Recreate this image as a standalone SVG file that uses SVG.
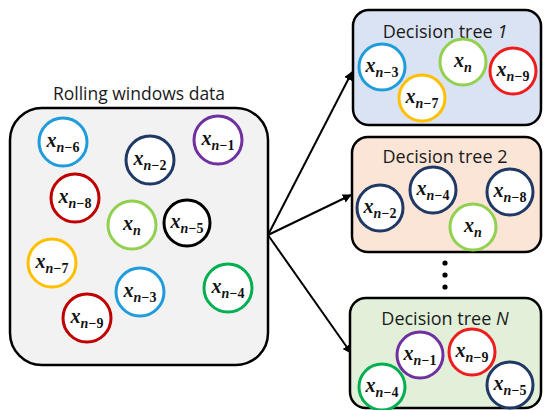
<svg xmlns="http://www.w3.org/2000/svg" width="544" height="410" viewBox="0 0 544 410">
<style>
.box{stroke:#000;stroke-width:2.5}
.c{fill:#fff;stroke-width:3}
.t{font-family:"Open Sans","Noto Sans",sans-serif;font-size:17.5px;fill:#1a1a1a;text-anchor:middle}
.m{font-family:"Liberation Serif",serif;font-weight:bold;font-style:italic;font-size:20px;fill:#111;text-anchor:middle}
.s{font-size:14px}
.u{font-style:normal}
.conn{stroke:#000;stroke-width:2;fill:none}
.blue{stroke:#1f9ddb}.navy{stroke:#1f3864}.purple{stroke:#7030a0}.red{stroke:#c00000}.bred{stroke:#ee1c1c}
.lg{stroke:#92d050}.dg{stroke:#00b050}.yel{stroke:#ffc000}.blk{stroke:#000}
</style>
<defs>
<marker id="ah" viewBox="0 0 10 10" refX="9" refY="5" markerWidth="4.5" markerHeight="4.5" orient="auto" markerUnits="strokeWidth">
<path d="M0,0 L10,5 L0,10 z" fill="#000"/>
</marker>
</defs>

<g id="connectors">
<line class="conn" x1="268" y1="235" x2="352" y2="72" marker-end="url(#ah)"/>
<line class="conn" x1="268" y1="235" x2="351" y2="195" marker-end="url(#ah)"/>
<line class="conn" x1="268" y1="235" x2="351" y2="353" marker-end="url(#ah)"/>
</g>

<g id="rolling-window">
<text class="t" x="139" y="100">Rolling windows data</text>
<rect class="box" x="10" y="108" width="258" height="257" rx="32" fill="#f2f2f2"/>
<g><circle class="c blue" cx="63" cy="142" r="24"/><text class="m" x="63" y="147">x<tspan class="s" dy="5">n<tspan class="u">−6</tspan></tspan></text></g>
<g><circle class="c navy" cx="150" cy="160" r="24"/><text class="m" x="150" y="165">x<tspan class="s" dy="5">n<tspan class="u">−2</tspan></tspan></text></g>
<g><circle class="c purple" cx="218" cy="140" r="24"/><text class="m" x="218" y="145">x<tspan class="s" dy="5">n<tspan class="u">−1</tspan></tspan></text></g>
<g><circle class="c red" cx="75" cy="198" r="24"/><text class="m" x="75" y="203">x<tspan class="s" dy="5">n<tspan class="u">−8</tspan></tspan></text></g>
<g><circle class="c lg" cx="132" cy="225" r="24"/><text class="m" x="132" y="230">x<tspan class="s" dy="5">n</tspan></text></g>
<g><circle class="c blk" cx="187" cy="223" r="23"/><text class="m" x="187" y="228">x<tspan class="s" dy="5">n<tspan class="u">−5</tspan></tspan></text></g>
<g><circle class="c yel" cx="52" cy="263" r="24"/><text class="m" x="52" y="268">x<tspan class="s" dy="5">n<tspan class="u">−7</tspan></tspan></text></g>
<g><circle class="c blue" cx="140" cy="292" r="24"/><text class="m" x="140" y="297">x<tspan class="s" dy="5">n<tspan class="u">−3</tspan></tspan></text></g>
<g><circle class="c red" cx="87" cy="318" r="24"/><text class="m" x="87" y="323">x<tspan class="s" dy="5">n<tspan class="u">−9</tspan></tspan></text></g>
<g><circle class="c dg" cx="228" cy="288" r="24"/><text class="m" x="228" y="293">x<tspan class="s" dy="5">n<tspan class="u">−4</tspan></tspan></text></g>
</g>

<g id="tree-1">
<rect class="box" x="353" y="10" width="188" height="115" rx="16" fill="#dae3f3"/>
<text class="t" x="445" y="38" style="font-size:18px">Decision tree <tspan font-style="italic">1</tspan></text>
<g><circle class="c blue" cx="382" cy="67" r="23"/><text class="m" x="382" y="72">x<tspan class="s" dy="5">n<tspan class="u">−3</tspan></tspan></text></g>
<g><circle class="c yel" cx="422" cy="98" r="23"/><text class="m" x="422" y="103">x<tspan class="s" dy="5">n<tspan class="u">−7</tspan></tspan></text></g>
<g><circle class="c lg" cx="463" cy="62" r="23"/><text class="m" x="463" y="67">x<tspan class="s" dy="5">n</tspan></text></g>
<g><circle class="c bred" cx="513" cy="71" r="23"/><text class="m" x="513" y="76">x<tspan class="s" dy="5">n<tspan class="u">−9</tspan></tspan></text></g>
</g>

<g id="tree-2">
<rect class="box" x="352" y="137" width="189" height="115" rx="16" fill="#fbe5d6"/>
<text class="t" x="445" y="163" style="font-size:18px">Decision tree 2</text>
<g><circle class="c navy" cx="380" cy="208" r="23"/><text class="m" x="380" y="213">x<tspan class="s" dy="5">n<tspan class="u">−2</tspan></tspan></text></g>
<g><circle class="c navy" cx="433" cy="190" r="23"/><text class="m" x="433" y="195">x<tspan class="s" dy="5">n<tspan class="u">−4</tspan></tspan></text></g>
<g><circle class="c lg" cx="473" cy="227" r="23"/><text class="m" x="473" y="232">x<tspan class="s" dy="5">n</tspan></text></g>
<g><circle class="c navy" cx="510" cy="192" r="23"/><text class="m" x="510" y="197">x<tspan class="s" dy="5">n<tspan class="u">−8</tspan></tspan></text></g>
</g>

<g id="ellipsis">
<circle cx="445" cy="263" r="2.6" fill="#000"/>
<circle cx="445" cy="275" r="2.6" fill="#000"/>
<circle cx="445" cy="287" r="2.6" fill="#000"/>
</g>

<g id="tree-N">
<rect class="box" x="350" y="298" width="191" height="110" rx="16" fill="#e2f0d9"/>
<text class="t" x="445" y="325" style="font-size:18px">Decision tree <tspan font-style="italic">N</tspan></text>
<g><circle class="c purple" cx="420" cy="355" r="23"/><text class="m" x="420" y="360">x<tspan class="s" dy="5">n<tspan class="u">−1</tspan></tspan></text></g>
<g><circle class="c bred" cx="472" cy="352" r="23"/><text class="m" x="472" y="357">x<tspan class="s" dy="5">n<tspan class="u">−9</tspan></tspan></text></g>
<g><circle class="c dg" cx="382" cy="387" r="23"/><text class="m" x="382" y="392">x<tspan class="s" dy="5">n<tspan class="u">−4</tspan></tspan></text></g>
<g><circle class="c navy" cx="510" cy="385" r="23"/><text class="m" x="510" y="390">x<tspan class="s" dy="5">n<tspan class="u">−5</tspan></tspan></text></g>
</g>
</svg>
